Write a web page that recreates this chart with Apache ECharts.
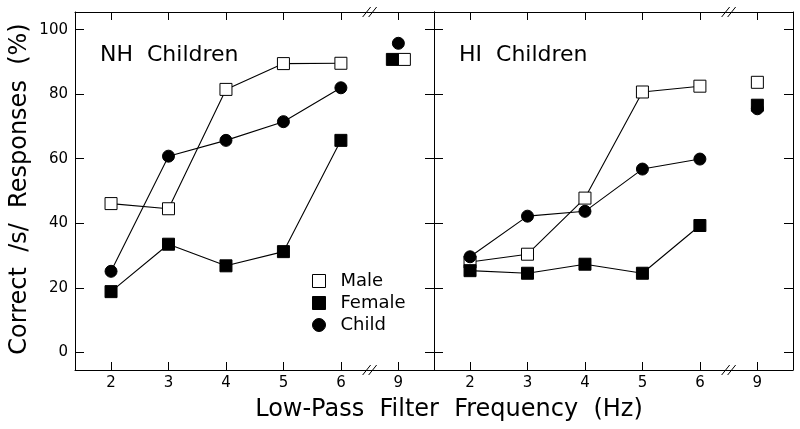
<!DOCTYPE html>
<html>
<head>
<meta charset="utf-8">
<script src="https://cdn.jsdelivr.net/npm/echarts@6/dist/echarts.min.js"></script>
<style>
html,body{margin:0;padding:0;background:#fff;}
#chart{width:800px;height:429px;}
</style>
</head>
<body>
<div id="chart"></div>
<script>
// ---- data ----
const freqLabels = ['2', '3', '4', '5', '6', '9'];
const yTickValues = [0, 20, 40, 60, 80, 100];
const seriesNames = ['Male', 'Female', 'Child'];
const panelTitles = ['NH  Children', 'HI  Children'];
const nhMale   = [46.1, 44.5, 81.5, 89.5, 89.6, 90.8];
const nhFemale = [18.8, 33.5, 26.8, 31.2, 65.7, 90.8];
const nhChild  = [25.1, 60.8, 65.7, 71.5, 82.0, 95.8];
const hiMale   = [28.0, 30.4, 47.8, 80.7, 82.5, 83.7];
const hiFemale = [25.3, 24.5, 27.3, 24.5, 39.3, 76.6];
const hiChild  = [29.6, 42.2, 43.7, 56.8, 59.9, 75.5];
const xTitle = 'Low-Pass  Filter  Frequency  (Hz)';
const yTitle = 'Correct  /s/  Responses  (%)';

// ---- build ----
const FONT = 'DejaVu Sans';
const pos = i => i + 2;               // axis position of category i
const xPositions = freqLabels.map((_, i) => pos(i));
const breakPos = 6.5;                 // axis break between 6 and 9
const xMin = 1.373, xMax = 7.62, yMin = -5.5, yMax = 105.5;

const chart = echarts.init(document.getElementById('chart'), null, {renderer: 'canvas'});

const lineStyle = {color: '#000', width: 1};
function xAxis(g, position, labels) {
  return {
    type: 'value', gridIndex: g, position: position, min: xMin, max: xMax,
    axisLine: {show: true, onZero: false, lineStyle: lineStyle},
    axisTick: {show: true, inside: true, length: 8, customValues: xPositions, lineStyle: lineStyle},
    axisLabel: {show: labels, customValues: xPositions, margin: 6, color: '#000', fontFamily: FONT, fontSize: 15,
      formatter: v => freqLabels[Math.round(v) - 2]},
    splitLine: {show: false}
  };
}
function yAxis(g, position, labels) {
  return {
    type: 'value', gridIndex: g, position: position, min: yMin, max: yMax,
    axisLine: {show: true, onZero: false, lineStyle: lineStyle},
    axisTick: {show: true, inside: true, length: 9, customValues: yTickValues, lineStyle: lineStyle},
    axisLabel: {show: labels, customValues: yTickValues, margin: 7, color: '#000', fontFamily: FONT, fontSize: 15},
    splitLine: {show: false}
  };
}

const styles = {
  Male:   {symbol: 'rect',   itemStyle: {color: '#fff', borderColor: '#000', borderWidth: 1, opacity: 1}},
  Female: {symbol: 'rect',   itemStyle: {color: '#000', borderColor: '#000', borderWidth: 1, opacity: 1}},
  Child:  {symbol: 'circle', itemStyle: {color: '#000', borderColor: '#000', borderWidth: 1, opacity: 1}}
};
const panels = [
  {axis: 0, data: {Male: nhMale, Female: nhFemale, Child: nhChild}, offs: {Male: [6, 0], Female: [-6, 0], Child: [0, 0]}},
  {axis: 2, data: {Male: hiMale, Female: hiFemale, Child: hiChild}, offs: {Male: [0, 0], Female: [0, 0], Child: [0, 0]}}
];
const drawOrder = ['Male', 'Female', 'Child'];

const series = [];
panels.forEach(p => {
  drawOrder.forEach(name => {
    const vals = p.data[name];
    const st = styles[name];
    const pts = vals.map((v, i) => [pos(i), v]);
    series.push({
      type: 'line', name: name, xAxisIndex: p.axis, yAxisIndex: p.axis,
      data: pts.slice(0, 5), symbol: st.symbol, symbolSize: 12, showSymbol: true,
      itemStyle: st.itemStyle, lineStyle: {color: '#000', width: 1.1}, z: 3, animation: false
    });
    series.push({
      type: 'scatter', name: name, xAxisIndex: p.axis, yAxisIndex: p.axis,
      data: pts.slice(5), symbol: st.symbol, symbolSize: 12, symbolOffset: p.offs[name],
      itemStyle: st.itemStyle, z: 3, animation: false
    });
  });
  // axis break marks
  series.push({
    type: 'custom', xAxisIndex: p.axis, yAxisIndex: p.axis, clip: false, silent: true, z: 5,
    data: [[breakPos, yMin], [breakPos, yMax]],
    renderItem: function (params, api) {
      const c = api.coord([api.value(0), api.value(1)]);
      const children = [-3, 3].map(dx => ({
        type: 'line',
        shape: {x1: c[0] + dx - 4, y1: c[1] + 5, x2: c[0] + dx + 4, y2: c[1] - 5},
        style: {stroke: '#000', lineWidth: 1}
      }));
      return {type: 'group', children: children};
    },
    animation: false
  });
});

const option = {
  backgroundColor: '#fff',
  animation: false,
  textStyle: {fontFamily: FONT, color: '#000'},
  grid: [
    {left: 75, top: 12, width: 359, height: 358},
    {left: 434, top: 12, width: 359, height: 358}
  ],
  xAxis: [xAxis(0, 'bottom', true), xAxis(0, 'top', false), xAxis(1, 'bottom', true), xAxis(1, 'top', false)],
  yAxis: [yAxis(0, 'left', true), yAxis(0, 'right', false), yAxis(1, 'left', false), yAxis(1, 'right', false)],
  legend: {
    orient: 'vertical', left: 307, top: 267, itemWidth: 13, itemHeight: 13, itemGap: 4,
    textStyle: {fontFamily: FONT, fontSize: 18, color: '#000', padding: [0, 0, 0, 10]},
    data: seriesNames.map(n => ({name: n, icon: styles[n].symbol, itemStyle: styles[n].itemStyle}))
  },
  graphic: [
    {type: 'text', left: 100, top: 44, style: {text: panelTitles[0], font: '22px "DejaVu Sans"', fill: '#000'}},
    {type: 'text', left: 459, top: 44, style: {text: panelTitles[1], font: '22px "DejaVu Sans"', fill: '#000'}},
    {type: 'text', x: 449, y: 410, style: {text: xTitle, font: '24px "DejaVu Sans"', fill: '#000', align: 'center', verticalAlign: 'middle'}},
    {type: 'text', x: 20, y: 189, rotation: Math.PI / 2, style: {text: yTitle, font: '24px "DejaVu Sans"', fill: '#000', align: 'center', verticalAlign: 'middle'}}
  ],
  series: series
};
chart.setOption(option);
</script>
</body>
</html>
